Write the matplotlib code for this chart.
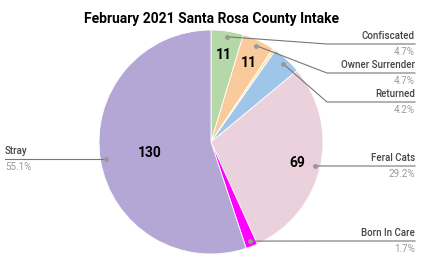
import matplotlib.pyplot as plt
import numpy as np

plt.rcParams['font.family'] = ['Roboto', 'DejaVu Sans']

# slice data (clockwise from 12 o'clock)
categories = ["Confiscated", "Owner Surrender", "", "Returned", "Feral Cats", "Born In Care", "Stray"]
counts = [11, 11, 1, 10, 69, 4, 130]
colors = ["#b6d7a8", "#f9cb9c", "#ffe599", "#9fc5e8", "#ead1dc", "#ff00ff", "#b4a7d6"]
show_count = [True, True, False, False, True, False, True]

W, H = 423, 261
fig = plt.figure(figsize=(W / 100, H / 100), dpi=100)
ax = fig.add_axes([0, 0, 1, 1])


def py(y):
    # pixel row -> axis y
    return H - y


cx, cy, R = 211, py(142), 112
wedges, _ = ax.pie(counts, colors=colors, startangle=90, counterclock=False,
                   center=(cx, cy), radius=R, frame=True,
                   wedgeprops=dict(linewidth=0.6, edgecolor="white"))
ax.set_xlim(0, W)
ax.set_ylim(0, H)
ax.axis("off")

total = sum(counts)
mids = [np.deg2rad((w.theta1 + w.theta2) / 2) for w in wedges]

# counts inside slices
for i, (m, n) in enumerate(zip(mids, counts)):
    if not show_count[i]:
        continue
    f = 0.55 if n > 100 else 0.79
    ax.text(cx + f * R * np.cos(m), cy + f * R * np.sin(m) - 1, str(n),
            ha="center", va="center", fontsize=10, fontweight="bold", color="#000000")

# outside labels: line row in pixels
label_rows = {"Confiscated": 44, "Owner Surrender": 73, "Returned": 102,
              "Feral Cats": 166, "Born In Care": 241, "Stray": 159}
x_right = 415
x_elbow = 327
x_left = 5
for i, name in enumerate(categories):
    if name not in label_rows:
        continue
    m = mids[i]
    dx, dy = cx + 0.95 * R * np.cos(m), cy + 0.95 * R * np.sin(m)
    ly = py(label_rows[name])
    pct = f"{100 * counts[i] / total:.1f}%"
    ax.plot([dx], [dy], "o", color="#999999", ms=2.5, zorder=5)
    if name == "Stray":
        ax.plot([dx, x_left], [dy, dy], color="#777777", lw=0.8, zorder=4)
        ax.text(x_left, dy + 3, name, ha="left", va="bottom", fontsize=7,
                fontweight="medium", color="#444444")
        ax.text(x_left, dy - 3, pct, ha="left", va="top", fontsize=7, color="#999999")
    else:
        ex = max(x_elbow, dx)
        ax.plot([dx, ex, x_right], [dy, ly, ly], color="#777777", lw=0.8, zorder=4)
        ax.text(x_right, ly + 3, name, ha="right", va="bottom", fontsize=7,
                fontweight="medium", color="#444444")
        ax.text(x_right, ly - 3, pct, ha="right", va="top", fontsize=7, color="#999999")

ax.text(211, py(19), "February 2021 Santa Rosa County Intake", ha="center", va="center",
        fontsize=10, fontweight="bold", color="#000000")

fig.savefig("out.png", dpi=100)
